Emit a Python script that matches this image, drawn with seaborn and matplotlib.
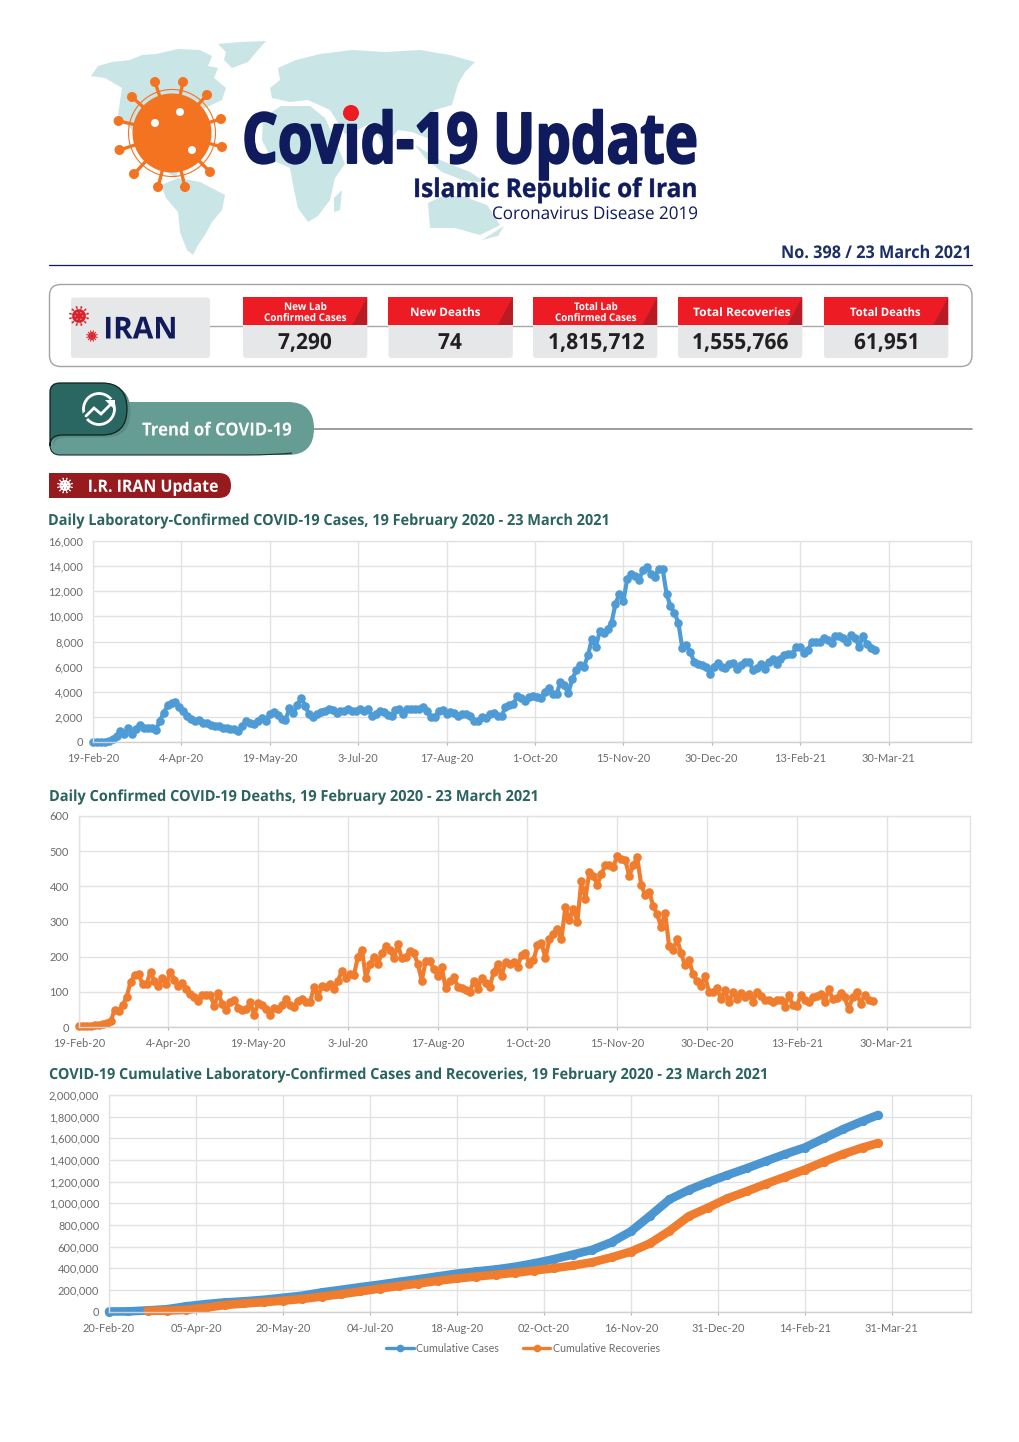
import numpy as np
import pandas as pd
import matplotlib
matplotlib.use('Agg')
import matplotlib.pyplot as plt
from matplotlib.patches import Circle, FancyBboxPatch, Polygon, Rectangle, PathPatch
from matplotlib.patheffects import AbstractPathEffect
from matplotlib.path import Path
from matplotlib.transforms import Affine2D
import seaborn as sns

W, H = 1020, 1442

# daily values, read every second day from 19-Feb-20
case_vals = [0, 10, 20, 30, 50, 200, 500, 850, 600, 1150,
             650, 1000, 1350, 1150, 1100, 1150, 950, 1700, 2300, 2950,
             3100, 3150, 2800, 2450, 2100, 1800, 1650, 1750, 1550, 1500,
             1350, 1300, 1250, 1100, 1150, 1050, 1000, 850, 1300, 1650,
             1500, 1400, 1700, 1950, 1700, 2200, 2350, 2150, 1850, 1750,
             2700, 2300, 2950, 3500, 2900, 2200, 2000, 2250, 2400, 2500,
             2600, 2550, 2300, 2450, 2500, 2600, 2450, 2450, 2600, 2450,
             2650, 2050, 2200, 2450, 2400, 2150, 2100, 2550, 2600, 2250,
             2600, 2650, 2600, 2650, 2750, 2500, 2000, 2000, 2450, 2550,
             2200, 2400, 2300, 2100, 2200, 2250, 2050, 1700, 1700, 2000,
             1950, 2200, 2300, 2100, 2050, 2800, 2950, 3000, 3650, 3500,
             3300, 3550, 3700, 3600, 3500, 4000, 4300, 3800, 3800, 4800,
             4500, 3900, 5000, 5700, 6100, 6000, 6900, 8200, 7600, 8800,
             8700, 9000, 9500, 11000, 11800, 11200, 13000, 13400, 13200, 12900,
             13700, 13950, 13400, 13100, 13800, 13800, 11800, 10800, 10300, 9500,
             7500, 7700, 7200, 6400, 6200, 6100, 6000, 5450, 6000, 6300,
             6000, 5900, 6200, 6300, 5800, 6100, 6350, 6400, 5750, 5900,
             6200, 5800, 6400, 6600, 6200, 6600, 6900, 7000, 7000, 7600,
             7600, 7100, 7300, 8000, 8000, 8000, 8300, 8150, 7900, 8450,
             8450, 8300, 7950, 8500, 8300, 7600, 8400, 7800, 7500, 7290]

death_vals = [2, 2, 3, 3, 5, 7, 9, 12, 16, 48,
              45, 62, 85, 128, 148, 150, 122, 122, 157, 130,
              118, 140, 122, 157, 135, 117, 125, 108, 95, 85,
              73, 92, 92, 90, 60, 96, 65, 47, 72, 78,
              55, 48, 50, 71, 35, 68, 62, 50, 33, 55,
              50, 62, 80, 62, 58, 75, 80, 72, 70, 115,
              85, 118, 115, 122, 108, 132, 160, 140, 150, 148,
              200, 220, 140, 178, 200, 180, 210, 230, 220, 195,
              235, 195, 200, 215, 210, 180, 132, 188, 188, 165,
              145, 170, 110, 130, 143, 115, 110, 105, 100, 130,
              108, 140, 125, 113, 155, 180, 145, 185, 180, 185,
              172, 205, 210, 178, 190, 232, 240, 195, 250, 265,
              280, 250, 340, 305, 335, 300, 415, 365, 440, 430,
              405, 435, 460, 462, 455, 487, 478, 475, 430, 460,
              482, 405, 375, 385, 345, 320, 285, 325, 230, 220,
              250, 210, 175, 190, 150, 130, 118, 145, 100, 100,
              110, 80, 105, 70, 100, 80, 97, 85, 95, 70,
              100, 88, 78, 78, 72, 78, 78, 58, 90, 62,
              60, 90, 78, 72, 85, 88, 95, 70, 108, 80,
              82, 98, 85, 50, 85, 100, 65, 90, 78, 74]

# cumulative values, read every tenth day from 20-Feb-20
cum_days = [0, 10, 20, 30, 40, 50, 60, 70, 80, 90, 100, 110, 120, 130, 140, 150, 160, 170, 180, 190,
            200, 210, 220, 230, 240, 250, 260, 270, 280, 290, 300, 310, 320, 330, 340, 350, 360, 370, 380, 390, 398]
cum_cases = [0, 900, 10000, 21000, 48000, 68000, 84000, 94000, 108000, 127000,
             146000, 176000, 200000, 225000, 248000, 274000, 298000, 324000, 350000, 370000,
             388000, 413000, 445000, 483000, 526000, 570000, 640000, 740000, 885000, 1035000,
             1123000, 1195000, 1261000, 1323000, 1390000, 1455000, 1515000, 1600000, 1685000, 1760000, 1815712]
cum_rec = [np.nan, np.nan, 6000, 8000, 15000, 35000, 60000, 74000, 86000, 100000,
           116000, 138000, 160000, 185000, 212000, 236000, 258000, 283000, 305000, 323000,
           340000, 358000, 378000, 400000, 425000, 455000, 500000, 553000, 630000, 745000,
           880000, 960000, 1045000, 1110000, 1180000, 1245000, 1310000, 1385000, 1455000, 1515000, 1555766]

daily_labels = ['19-Feb-20', '4-Apr-20', '19-May-20', '3-Jul-20', '17-Aug-20', '1-Oct-20',
                '15-Nov-20', '30-Dec-20', '13-Feb-21', '30-Mar-21']
cum_labels = ['20-Feb-20', '05-Apr-20', '20-May-20', '04-Jul-20', '18-Aug-20', '02-Oct-20',
              '16-Nov-20', '31-Dec-20', '14-Feb-21', '31-Mar-21']
card_titles = [['New Lab', 'Confirmed Cases'], ['New Deaths'], ['Total Lab', 'Confirmed Cases'], ['Total Recoveries'], ['Total Deaths']]
card_values = ['7,290', '74', '1,815,712', '1,555,766', '61,951']

BLUE = '#4f9bd5'
ORANGE = '#f07c2e'
NAVY = '#0f1b5c'
TEAL = '#2a6360'
GRID = '#e2e2e2'
TICK = '#6b6b6b'
HEAD = ['Open Sans', 'DejaVu Sans']

sns.set_theme(style='white')
plt.rcParams['font.family'] = ['Lato', 'DejaVu Sans']

fig = plt.figure(figsize=(W / 100, H / 100), dpi=100)
bg = fig.add_axes([0, 0, 1, 1])
bg.set_xlim(0, W)
bg.set_ylim(H, 0)
bg.axis('off')


# the installed fonts are wider than the original one, so narrow the glyphs when drawn
class Squeeze(AbstractPathEffect):
    def __init__(self, sx, stroke=0):
        super().__init__()
        self.sx = sx
        self.stroke = stroke

    def draw_path(self, renderer, gc, tpath, affine, rgbFace=None):
        gc2 = renderer.new_gc()
        gc2.copy_properties(gc)
        if self.stroke:
            gc2.set_linewidth(self.stroke)
            gc2.set_foreground(rgbFace)
        renderer.draw_path(gc2, tpath, Affine2D().scale(self.sx, 1) + affine, rgbFace)
        gc2.restore()


def fit_text(x0, x1, y, s, size, color, weight='bold', zorder=5, stroke=0):
    t = bg.text(x0, y, s, family=HEAD, weight=weight, fontsize=size, color=color, ha='left', va='baseline', zorder=zorder)
    w = t.get_window_extent(fig.canvas.get_renderer()).width
    t.set_path_effects([Squeeze((x1 - x0) / w, stroke)])
    return t


def ball_virus(x, y, r, color, specks=None):
    for a in np.linspace(0, 2 * np.pi, 12, endpoint=False) + np.pi / 12:
        ex, ey = x + 1.35 * r * np.sin(a), y - 1.35 * r * np.cos(a)
        bg.plot([x, ex], [y, ey], color=color, lw=0.7, zorder=3)
        bg.add_patch(Circle((ex, ey), r * 0.14, fc=color, ec='none', zorder=3))
    bg.add_patch(Circle((x, y), r, fc=color, ec='none', zorder=3))
    if specks:
        for a in np.linspace(0, 2 * np.pi, 6, endpoint=False):
            bg.add_patch(Circle((x + 0.55 * r * np.cos(a), y + 0.55 * r * np.sin(a)), r * 0.09, fc=specks, ec='none', zorder=4))


# header map
land = [
    [(218, 44), (240, 42), (266, 41), (258, 50), (248, 62), (232, 68), (224, 60), (226, 52)],
    [(91, 76), (98, 66), (112, 62), (130, 60), (142, 55), (156, 54), (178, 49), (200, 50), (212, 56), (208, 66),
     (218, 68), (214, 78), (226, 88), (222, 100), (205, 108), (198, 125), (190, 145), (180, 165), (176, 178),
     (166, 172), (150, 150), (132, 130), (118, 115), (122, 88), (105, 78)],
    [(161, 185), (178, 178), (200, 182), (225, 195), (222, 210), (212, 222), (205, 235), (198, 245), (193, 255),
     (187, 250), (180, 232), (178, 212), (166, 198)],
    [(263, 118), (281, 106), (310, 106), (325, 118), (335, 140), (345, 164), (335, 178), (330, 200), (318, 216),
     (308, 222), (298, 208), (294, 190), (290, 168), (272, 160), (262, 140)],
    [(334, 198), (342, 190), (340, 210), (334, 212)],
    [(272, 98), (270, 88), (280, 80), (278, 68), (296, 60), (320, 54), (352, 50), (385, 52), (420, 50), (450, 55),
     (475, 62), (465, 72), (458, 84), (452, 105), (435, 110), (425, 118), (432, 140), (412, 132), (398, 130),
     (384, 148), (372, 122), (358, 130), (345, 134), (330, 110), (308, 100), (290, 102)],
    [(415, 145), (440, 160), (470, 172), (486, 183), (462, 180), (442, 172), (425, 158)],
    [(428, 203), (445, 195), (465, 197), (487, 205), (500, 225), (480, 235), (455, 228), (430, 228)],
    [(482, 240), (504, 226), (498, 236)],
]
for p in land:
    bg.add_patch(Polygon(p, closed=True, fc='#c9e5e6', ec='none', zorder=1))

# big virus
bg.add_patch(Circle((172, 133), 43.5, fc='none', ec='#f47321', lw=0.8, zorder=3))
bg.add_patch(Circle((172, 133), 39.5, fc='#f47321', ec='none', zorder=3))
spike_ends = [(155, 82), (183, 82), (207, 95), (221, 119), (222, 147), (210, 172),
              (185, 187), (158, 187), (134, 174), (119.5, 150), (118.6, 121), (132, 97)]
for ex, ey in spike_ends:
    bg.plot([172, ex], [133, ey], color='#f47321', lw=2.4, zorder=2.5)
    bg.add_patch(Circle((ex, ey), 5, fc='#f47321', ec='none', zorder=3))
for hx, hy, hr in [(180, 112, 4), (155, 123, 4), (192, 150, 4)]:
    bg.add_patch(Circle((hx, hy), hr, fc='white', ec='none', zorder=4))

bg.add_patch(Circle((351, 113), 8, fc='#ed1c24', ec='none', zorder=6))
fit_text(242, 698, 163, 'Covid-19 Update', 50.5, NAVY, stroke=1.4)
fit_text(413, 698, 197, 'Islamic Republic of Iran', 18.5, NAVY, stroke=0.3)
fit_text(492, 698, 219, 'Coronavirus Disease 2019', 12.6, NAVY, weight='normal')
fit_text(781, 972, 258, 'No. 398 / 23 March 2021', 12.6, '#1c2f66')
bg.plot([49, 972], [264.5, 264.5], color=NAVY, lw=0.9)

# summary box
bg.add_patch(FancyBboxPatch((49.5, 284.5), 922.5, 82, boxstyle='round,pad=0,rounding_size=11', fc='white', ec='#a3a3a3', lw=1))
bg.plot([210, 825], [325.5, 325.5], color='#a8a8a8', lw=1, zorder=1)
bg.add_patch(FancyBboxPatch((71, 297.5), 139, 60.5, boxstyle='round,pad=0,rounding_size=3', fc='#e6e7e8', ec='none', zorder=2))
ball_virus(79, 316, 6.8, '#d8232a', specks='#f6b6b6')
ball_virus(92, 336, 3.8, '#d8232a', specks='#f6b6b6')
fit_text(103.3, 177.5, 338.5, 'IRAN', 21.8, NAVY)

card_x = [243, 388.5, 533, 678, 824]
card_w = 124.3
title_spans = [[(284, 327), (264, 347)], [(410, 480)], [(574, 618), (555, 637)], [(693, 790)], [(850, 920)]]
value_spans = [(278, 332), (438, 462), (548, 645), (692, 789), (854, 920)]
for cx, lines, spans, value, vspan in zip(card_x, card_titles, title_spans, card_values, value_spans):
    bg.add_patch(FancyBboxPatch((cx, 322), card_w, 36, boxstyle='round,pad=0,rounding_size=3', fc='#e6e7e8', ec='none', zorder=2))
    bg.add_patch(Rectangle((cx, 297), card_w, 28, fc='#ed1c24', ec='none', zorder=3))
    bg.add_patch(Polygon([(cx + card_w - 15, 325), (cx + card_w, 297), (cx + card_w, 325)], fc='#b71c24', ec='none', zorder=4))
    base = [310, 321] if len(lines) == 2 else [316]
    for s, (x0, x1), y in zip(lines, spans, base):
        fit_text(x0, x1, y, s, 7.6 if len(lines) == 2 else 8.4, 'white')
    fit_text(vspan[0], vspan[1], 349, value, 16, '#231f20')

# ribbon
bg.plot([310, 972], [428.5, 428.5], color='#8c8c8c', lw=1.2, zorder=1)
ribbon = Path([(52, 402), (288, 402), (314, 402), (314, 428.5), (314, 455), (288, 455), (60, 455), (50, 455), (50, 445), (50, 402), (52, 402)],
              [Path.MOVETO, Path.LINETO, Path.CURVE3, Path.CURVE3, Path.CURVE3, Path.CURVE3, Path.LINETO, Path.CURVE3, Path.CURVE3, Path.LINETO, Path.CLOSEPOLY])
bg.add_patch(PathPatch(ribbon, fc='#659c94', ec='none', zorder=2))
edge = Path([(50, 445), (50, 455), (60, 455), (245, 455), (275, 455), (292, 453)],
            [Path.MOVETO, Path.CURVE3, Path.CURVE3, Path.LINETO, Path.CURVE3, Path.CURVE3])
bg.add_patch(PathPatch(edge, fc='none', ec='#17302e', lw=0.8, zorder=3))
dark_verts = [(50, 392), (50, 383), (60, 383), (102, 383), (127, 383), (127, 409), (127, 435), (102, 435), (62, 435), (50, 435), (50, 446), (50, 392)]
dark_codes = [Path.MOVETO, Path.CURVE3, Path.CURVE3, Path.LINETO, Path.CURVE3, Path.CURVE3, Path.CURVE3, Path.CURVE3, Path.LINETO, Path.CURVE3, Path.CURVE3, Path.CLOSEPOLY]
shadow = Path([(x + 3.5, y + 2.5) for x, y in dark_verts], dark_codes)
bg.add_patch(PathPatch(shadow, fc='#578d85', ec='none', zorder=3))
bg.add_patch(PathPatch(Path(dark_verts, dark_codes), fc='#2a6763', ec='#10211f', lw=0.9, zorder=4))
bg.add_patch(Circle((99, 409), 15.5, fc='none', ec='white', lw=2, zorder=5))
bg.plot([84, 94, 101, 113], [417, 408, 414, 402], color='#2a6763', lw=5, zorder=5.5)
bg.plot([86, 94, 101, 112], [416, 408, 414, 403], color='white', lw=2, zorder=6, solid_joinstyle='miter')
bg.add_patch(Polygon([(105, 400), (115, 400), (115, 410)], fc='white', ec='none', zorder=6))
fit_text(142, 291, 435.5, 'Trend of COVID-19', 13, 'white')

# red tag
tag = Path([(49, 473), (219, 473), (231, 473), (231, 485.5), (231, 498), (219, 498), (49, 498), (49, 473)],
           [Path.MOVETO, Path.LINETO, Path.CURVE3, Path.CURVE3, Path.CURVE3, Path.CURVE3, Path.LINETO, Path.CLOSEPOLY])
bg.add_patch(PathPatch(tag, fc='#971b1e', ec='none', zorder=2))
ball_virus(65, 485.5, 5.4, 'white', specks='#971b1e')
fit_text(87.7, 218, 491.8, 'I.R. IRAN Update', 12.2, 'white')

# chart titles
fit_text(48, 610, 525, 'Daily Laboratory-Confirmed COVID-19 Cases, 19 February 2020 - 23 March 2021', 11, TEAL)
fit_text(49, 539, 801, 'Daily Confirmed COVID-19 Deaths, 19 February 2020 - 23 March 2021', 11, TEAL)
fit_text(49, 768, 1079, 'COVID-19 Cumulative Laboratory-Confirmed Cases and Recoveries, 19 February 2020 - 23 March 2021', 11, TEAL)


def make_ax(left, right, top, bottom, xmax, yticks, labels):
    ax = fig.add_axes([left / W, 1 - bottom / H, (right - left) / W, (bottom - top) / H])
    ax.set_xlim(0, xmax)
    ax.set_ylim(yticks[0], yticks[-1])
    ax.set_xticks(range(0, 450, 45))
    ax.set_xticklabels(labels)
    ax.set_yticks(yticks)
    ax.set_yticklabels([f'{v:,}' for v in yticks], va='center_baseline')
    ax.grid(True, color=GRID, lw=1)
    ax.set_axisbelow(True)
    ax.tick_params(axis='x', length=2.5, width=0.8, color='#b5b5b5', bottom=True, pad=5.5, labelsize=7.9, labelcolor=TICK)
    ax.tick_params(axis='y', length=0, pad=7, labelsize=7.9, labelcolor=TICK)
    for s in ax.spines.values():
        s.set_color(GRID)
        s.set_linewidth(1)
    ax.spines['bottom'].set_color('#d0d0d0')
    ax.patch.set_alpha(0)
    return ax


daily_df = pd.DataFrame({'day': np.arange(0, 400, 2), 'cases': case_vals, 'deaths': death_vals})

ax1 = make_ax(93, 971, 541, 742, 447, list(range(0, 16001, 2000)), daily_labels)
sns.lineplot(data=daily_df, x='day', y='cases', color=BLUE, lw=3, marker='o', markersize=6.2, markeredgewidth=0, ax=ax1, clip_on=False)

ax2 = make_ax(78.7, 970.3, 816, 1027, 447, list(range(0, 601, 100)), daily_labels)
sns.lineplot(data=daily_df, x='day', y='deaths', color=ORANGE, lw=3, marker='o', markersize=6.2, markeredgewidth=0, ax=ax2, clip_on=False)

for a in (ax1, ax2):
    a.set_xlabel('')
    a.set_ylabel('')

cum_df = pd.DataFrame({'day': cum_days, 'Cumulative Cases': cum_cases, 'Cumulative Recoveries': cum_rec})
ax3 = make_ax(109, 971, 1095, 1311.5, 446, list(range(0, 2000001, 200000)), cum_labels)
sns.lineplot(data=cum_df, x='day', y='Cumulative Cases', color='#4b96d1', lw=6.2, marker='o', markersize=6.6, markeredgewidth=0,
             label='Cumulative Cases', ax=ax3, clip_on=False)
sns.lineplot(data=cum_df, x='day', y='Cumulative Recoveries', color=ORANGE, lw=6.2, marker='o', markersize=6.6, markeredgewidth=0,
             label='Cumulative Recoveries', ax=ax3, clip_on=False)
ax3.set_xlabel('')
ax3.set_ylabel('')
leg = ax3.legend(loc='upper center', bbox_to_anchor=((523 - 109) / 862, -0.10), ncol=2, frameon=False, fontsize=7.7,
                 labelcolor=TICK, handlelength=2.6, handletextpad=0.2, columnspacing=2.2)
for h in leg.get_lines():
    h.set_linewidth(2.4)
    h.set_markersize(5.5)

fig.savefig('out.png', dpi=100, facecolor='white')
